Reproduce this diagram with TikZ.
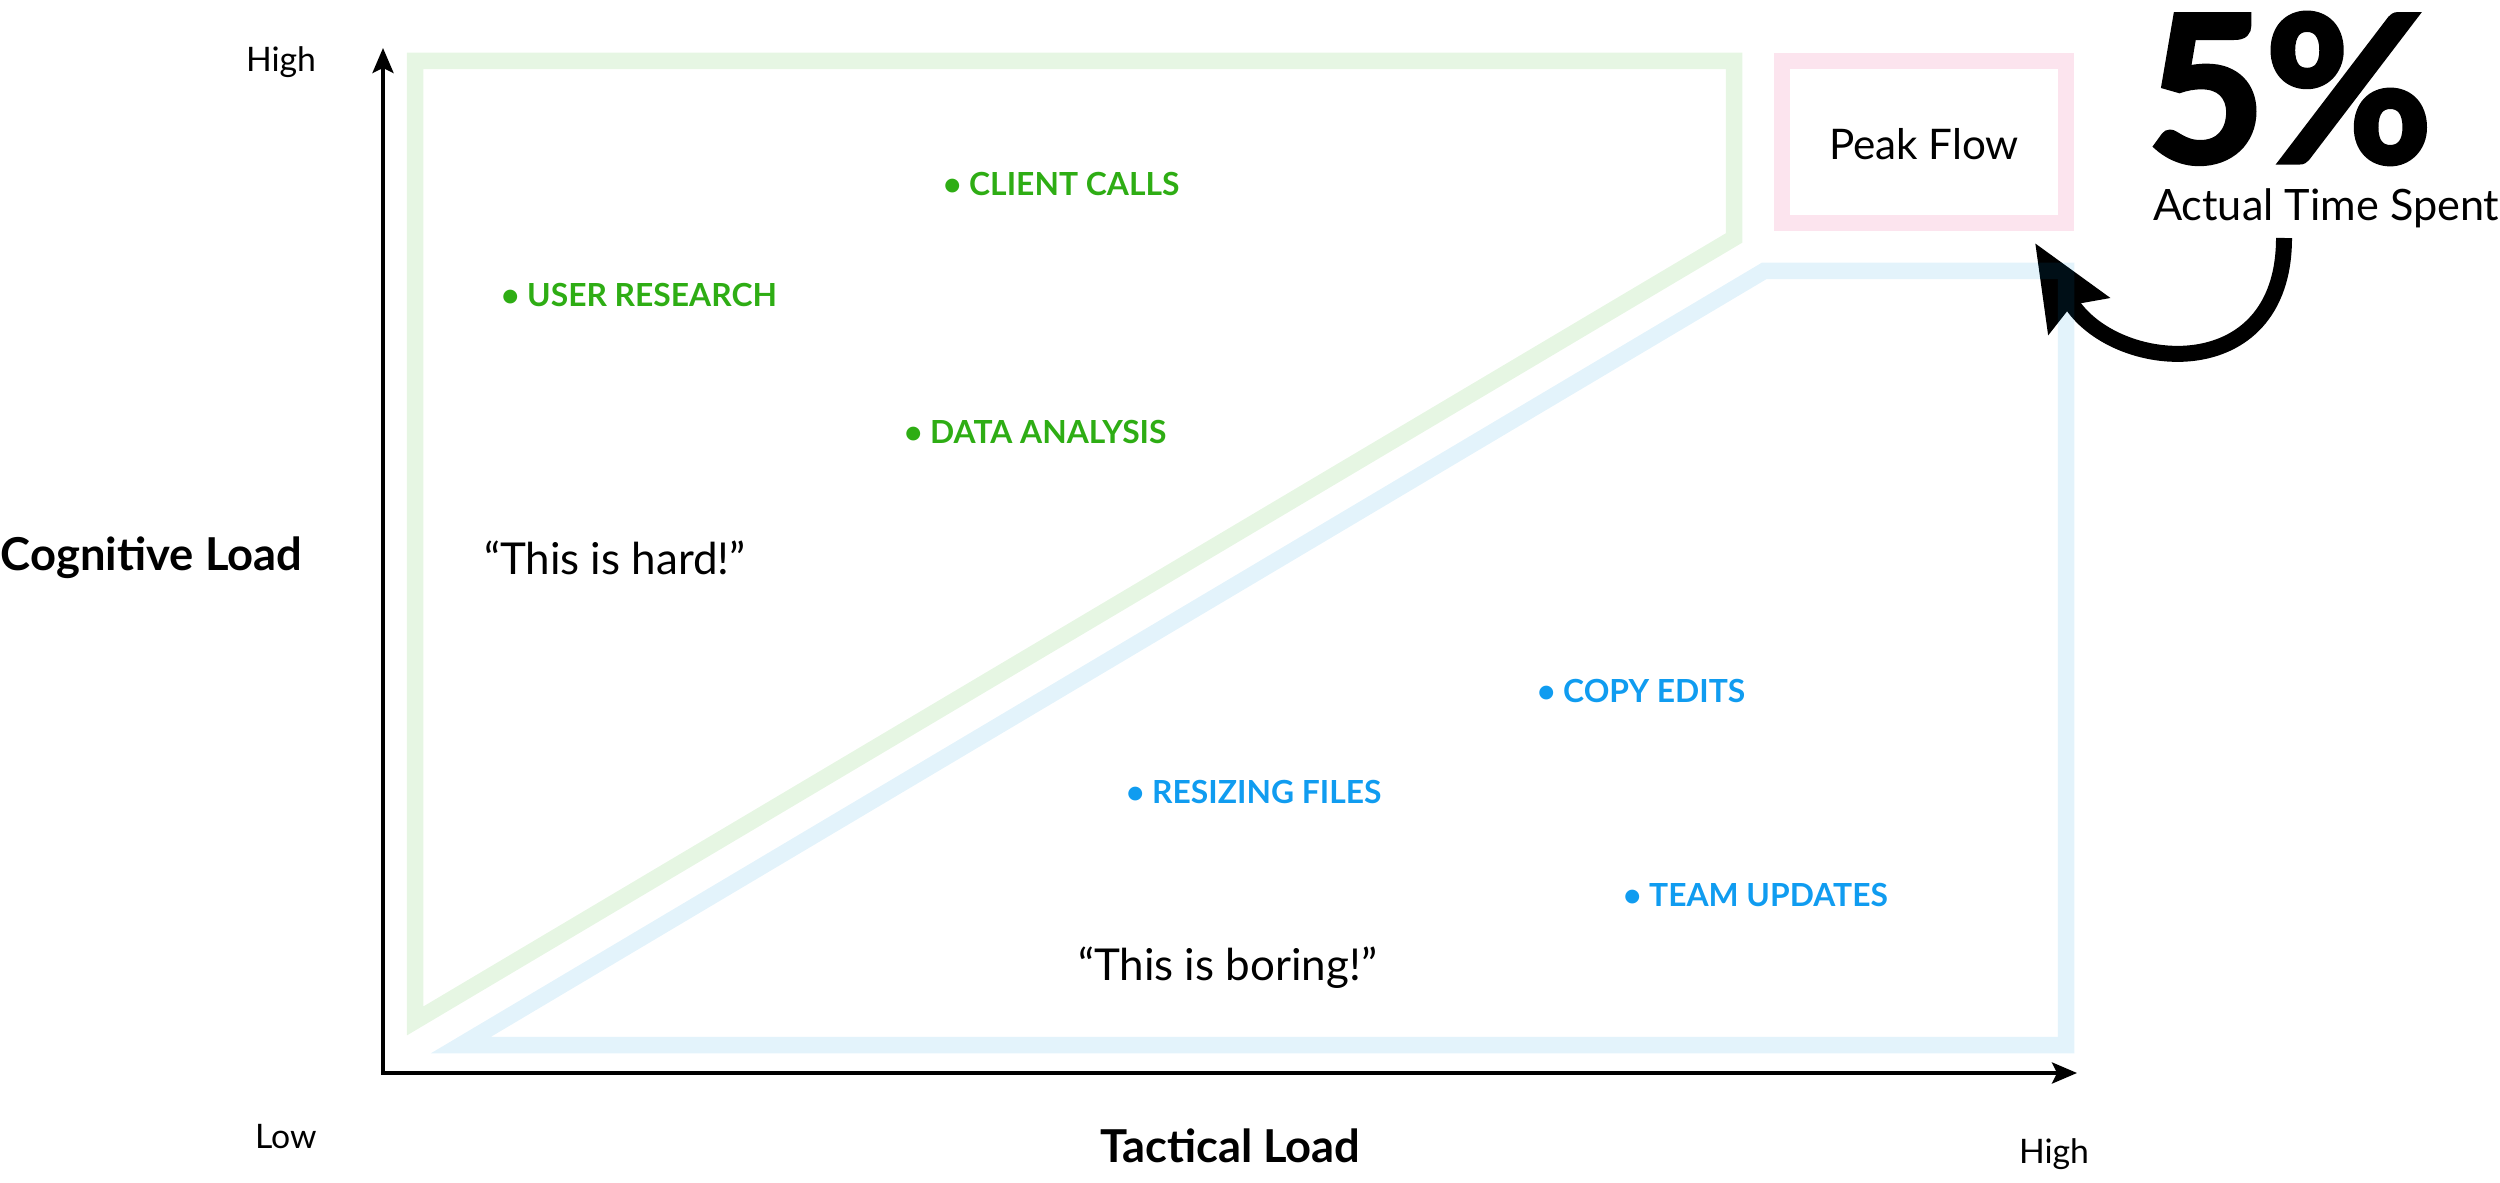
\documentclass[tikz,border=0pt]{standalone}
\usepackage{fontspec}
\setmainfont{Lato}
\newfontfamily\heavyfont{Lato}[BoldFeatures={FakeBold=2.5}]
\usetikzlibrary{arrows.meta}

\definecolor{hardgreen}{RGB}{46,173,20}
\definecolor{hardband}{RGB}{230,246,227}
\definecolor{easyblue}{RGB}{16,156,240}
\definecolor{easyband}{RGB}{0,145,218}
\definecolor{peakband}{RGB}{252,228,238}

\begin{document}
\begin{tikzpicture}[
  x=0.1mm, y=0.1mm,
  every node/.style={inner sep=0pt, outer sep=0pt},
  axisline/.style={line width=1.1pt, {Stealth[length=2.5mm, width=2.1mm, inset=0.5mm]}-{Stealth[length=2.5mm, width=2.1mm, inset=0.5mm]}},
  band/.style={line width=1.65mm, line join=miter},
  ticklabel/.style={anchor=base west, font=\fontsize{9.6}{11}\selectfont},
  axistitle/.style={anchor=base west, font=\fontsize{12.9}{15}\selectfont\bfseries},
  quote/.style={anchor=base west, font=\fontsize{12.5}{14}\selectfont},
  hardtask/.style={anchor=base west, font=\fontsize{9.05}{11}\selectfont\bfseries, text=hardgreen},
  easytask/.style={anchor=base west, font=\fontsize{9.05}{11}\selectfont\bfseries, text=easyblue},
  bigarrow/.style={line width=1.6mm, -{Stealth[length=8.4mm, width=6.9mm, inset=1.2mm]}}
]
\useasboundingbox (0,0) rectangle (2500,-1183);

% Zones
\draw[band, hardband] (415,-61) -- (1734,-61) -- (1734,-238) -- (415,-1021) -- cycle;
\draw[band, peakband] (1782,-61) rectangle (2066,-223);

% Axes
\coordinate (ytip) at (383,-48);
\coordinate (xtip) at (2077,-1073);
\draw[axisline] (ytip) |- (xtip);

% Nodes
\node[ticklabel] (yhigh) at (246,-72) {High};
\node[ticklabel] (ylow) at (255,-1148) {Low};
\node[ticklabel] (xhigh) at (2019,-1163) {High};
\node[axistitle] (cognitive) at (1,-570) {Cognitive Load};
\node[axistitle] (tactical) at (1100,-1162) {Tactical Load};

\node[hardtask] (clientcalls) at (943,-196) {• CLIENT CALLS};
\node[hardtask] (userresearch) at (501,-307) {• USER RESEARCH};
\node[hardtask] (dataanalysis) at (904,-444) {• DATA ANALYSIS};
\node[quote] (hardquote) at (484,-574) {“This is hard!”};

\node[easytask] (copyedits) at (1537,-703) {• COPY EDITS};
\node[easytask] (resizing) at (1126,-803) {• RESIZING FILES};
\node[easytask] (teamupdates) at (1623,-906) {• TEAM UPDATES};
\node[quote] (boringquote) at (1078,-980) {“This is boring!”};

\node[anchor=base, font=\fontsize{12}{14}\selectfont] (peakflow) at (1924,-160) {Peak Flow};
\node[anchor=base west, text depth=0pt, font=\fontsize{58}{60}\selectfont\heavyfont\bfseries] (fivepct) at (2147,-162) {5\%};
\node[anchor=base west, text height=0.72em, font=\fontsize{12.3}{14}\selectfont] (timespent) at (2153,-221) {Actual Time Spent};

% Arrow
\coordinate (curvestart) at (2284,-238);
\coordinate (curveend) at (2035,-243);
\draw[bigarrow] (curvestart) to[out=-90, in=-59, looseness=1.55] (curveend);

\draw[band, easyband, draw opacity=0.11] (1764,-271) -- (2066,-271) -- (2066,-1045) -- (461,-1045) -- cycle;

\end{tikzpicture}
\end{document}
